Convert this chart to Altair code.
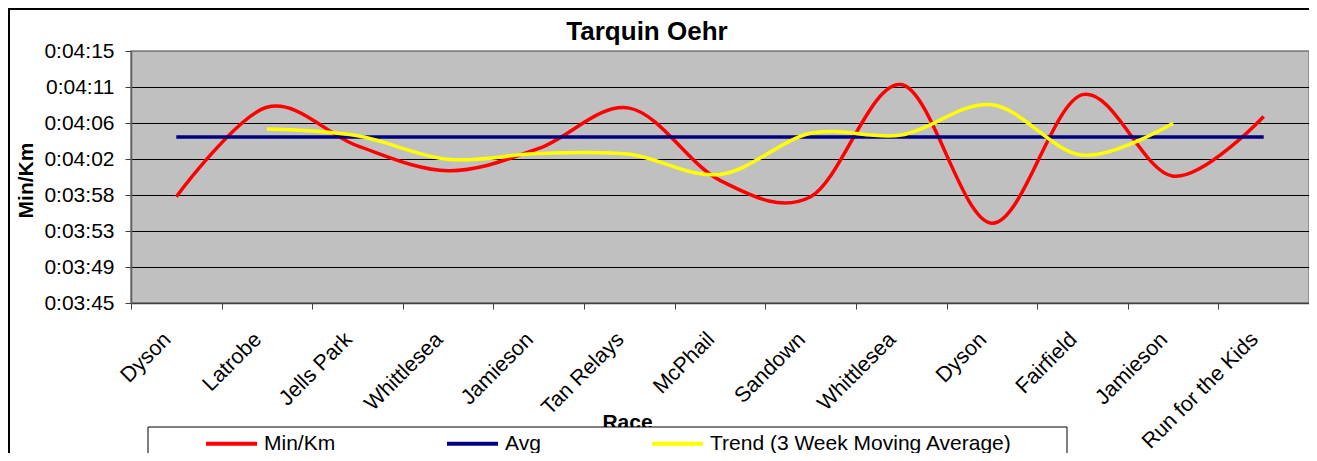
import json
import altair as alt
import pandas as pd

# ---- data (seconds per km) ----
races = ["Dyson", "Latrobe", "Jells Park", "Whittlesea", "Jamieson", "Tan Relays",
         "McPhail", "Sandown", "Whittlesea", "Dyson", "Fairfield", "Jamieson",
         "Run for the Kids"]
min_per_km = [237.65, 248.3, 243.7, 240.75, 243.4, 248.2, 239.6, 237.65, 251.0,
              234.5, 249.8, 240.1, 247.2]
avg = [244.76, 244.76, 244.76, 244.76, 244.76, 244.76, 244.76, 244.76, 244.76,
       244.76, 244.76, 244.76, 244.76]
trend = [None, 245.7, 244.9, 242.1, 242.8, 242.7, 240.3, 245.2, 245.0, 248.6,
         242.6, 246.4, None]
series_names = ["Min/Km", "Avg", "Trend (3 Week Moving Average)"]
series_colors = ["#FF0000", "#000080", "#FFFF00"]
y_tick_labels = ["0:03:45", "0:03:49", "0:03:53", "0:03:58", "0:04:02",
                 "0:04:06", "0:04:11", "0:04:15"]
y_min, y_max = 225, 255

rows = []
for name, vals in zip(series_names, [min_per_km, avg, trend]):
    for i, v in enumerate(vals):
        if v is not None:
            rows.append({"idx": i, "series": name, "value": v})
df = pd.DataFrame(rows)

n_ticks = len(y_tick_labels)
y_ticks = [y_min + k * (y_max - y_min) / (n_ticks - 1) for k in range(n_ticks)]

FONT = "Liberation Sans"

x_enc = alt.X(
    "idx:O",
    scale=alt.Scale(type="band", paddingInner=0, paddingOuter=0,
                    domain=list(range(len(races)))),
    axis=alt.Axis(
        title="Race",
        labelExpr=f"{json.dumps(races)}[datum.value]",
        tickBand="extent",
        labelAngle=-45,
        labelAlign="right",
        labelBaseline="middle",
        labelFontSize=21.5,
        labelPadding=27,
        labelOffset=-9,
        labelOverlap=False,
        labelColor="black",
        tickSize=6,
        tickColor="#404040",
        domainColor="#404040",
        domainWidth=1.5,
        grid=False,
        titleFontSize=21,
        titleFontWeight="bold",
        titleX=496,
        titleY=125,
        titleBaseline="alphabetic",
        titleAlign="center",
        titleColor="black",
    ),
)

y_enc = alt.Y(
    "value:Q",
    scale=alt.Scale(domain=[y_min, y_max], nice=False, zero=False),
    axis=alt.Axis(
        title="Min/Km",
        values=y_ticks,
        labelExpr=f"{json.dumps(y_tick_labels)}[round((datum.value-{y_min})*{n_ticks-1}/{y_max-y_min})]",
        labelFontSize=21,
        labelPadding=11,
        labelColor="black",
        tickSize=6,
        tickColor="#404040",
        domainColor="#606060",
        domainWidth=1.5,
        grid=True,
        gridColor={"condition": {"test": f"datum.value >= {y_max - 0.1}", "value": "#808080"},
                   "value": "#000000"},
        gridWidth=1,
        titleFontSize=21,
        titleFontWeight="bold",
        titleX=-105,
        titleY=129,
        titleAngle=-90,
        titleAlign="center",
        titleBaseline="middle",
        titleColor="black",
    ),
)

one = pd.DataFrame({"k": [0]})

# outer chart-area frame (only top and left edges are inside the picture)
frame_top = alt.Chart(one).mark_rule(color="black", strokeWidth=2).encode(
    x=alt.value(-123), x2=alt.value(1200), y=alt.value(-42))
frame_left = alt.Chart(one).mark_rule(color="black", strokeWidth=2).encode(
    x=alt.value(-122), y=alt.value(-43), y2=alt.value(420))

legend_box = alt.Chart(one).mark_rect(
    fill="white", stroke="black", strokeWidth=1
).encode(x=alt.value(17), x2=alt.value(936), y=alt.value(376), y2=alt.value(420))

lines = alt.Chart(df).mark_line(interpolate="cardinal", strokeWidth=3.5).encode(
    x=x_enc,
    y=y_enc,
    color=alt.Color(
        "series:N",
        scale=alt.Scale(domain=series_names, range=series_colors),
        legend=alt.Legend(
            title=None,
            orient="none",
            legendX=73,
            legendY=365,
            direction="horizontal",
            columnPadding=103,
            symbolType="stroke",
            symbolSize=2601,
            symbolStrokeWidth=4,
            labelFontSize=21,
            labelOffset=5,
            labelLimit=600,
            labelColor="black",
            padding=0,
            zindex=1,
        ),
    ),
)

chart = alt.layer(frame_top, frame_left, legend_box, lines).properties(
    width=1178,
    height=252,
    padding={"left": 123, "top": 43, "right": 0, "bottom": 150},
    autosize=alt.AutoSizeParams(type="none"),
    title=alt.TitleParams(
        "Tarquin Oehr", fontSize=26, fontWeight="bold", font=FONT,
        anchor="middle", frame="group", dx=-73, dy=59, offset=0,
        baseline="alphabetic", color="black",
    ),
).configure(font=FONT).configure_view(
    fill="#C0C0C0", stroke="#808080", strokeWidth=1.5
)

chart.save("out.html", embed_options={"renderer": "svg", "actions": False})
